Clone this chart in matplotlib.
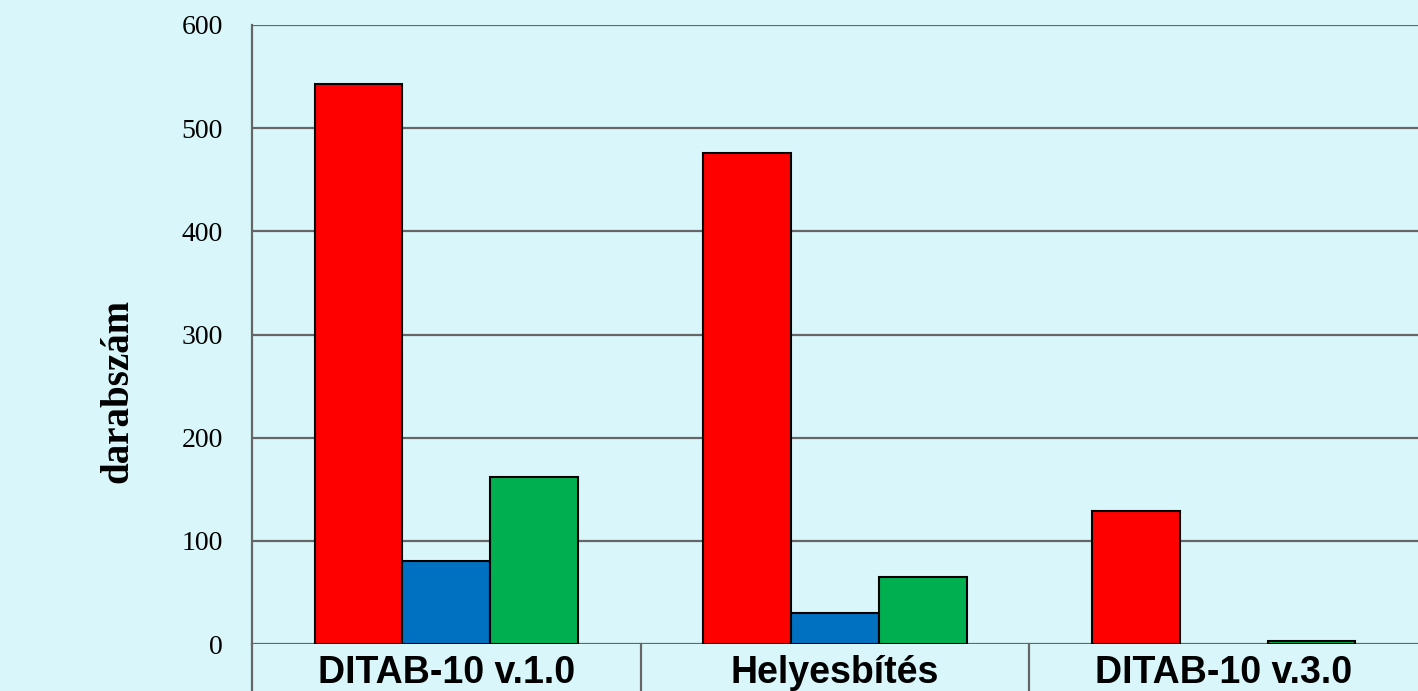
import numpy as np
import matplotlib.pyplot as plt
from matplotlib.lines import Line2D

# Data
categories = ['DITAB-10 v.1.0', 'Helyesbítés', 'DITAB-10 v.3.0']
red_vals = [543, 476, 129]
blue_vals = [80, 30, 0]
green_vals = [162, 65, 3]
yticks = [0, 100, 200, 300, 400, 500, 600]

bg = '#d9f7fa'
grid_col = '#666666'

fig = plt.figure(figsize=(14.18, 6.91), dpi=100)
fig.patch.set_facecolor(bg)
ax = fig.add_axes([252/1418, 47/691, 1166/1418, 619/691])
ax.set_facecolor(bg)

x = np.arange(len(categories))
w = 0.226
for off, vals, col in [(-w, red_vals, '#ff0000'), (0, blue_vals, '#0070c0'), (w, green_vals, '#00b050')]:
    v = np.array(vals)
    keep = v > 0
    ax.bar(x[keep] + off, v[keep], width=w, color=col, edgecolor='black', linewidth=1.5, zorder=3)

ax.set_xlim(-0.5, 2.5)
ax.set_ylim(0, 600)
ax.set_yticks(yticks)
ax.set_yticklabels([str(t) for t in yticks], family='Liberation Serif', fontsize=20)
ax.tick_params(axis='y', length=0, pad=21)
ax.yaxis.grid(True, color=grid_col, linewidth=1.6, zorder=1)
ax.set_axisbelow(True)

for s in ['top', 'right', 'bottom']:
    ax.spines[s].set_visible(False)
ax.spines['left'].set_color(grid_col)
ax.spines['left'].set_linewidth(1.6)

# category table under the axis
ax.set_xticks(x)
ax.set_xticklabels(categories, family='Liberation Sans', fontweight='bold', fontsize=27)
ax.tick_params(axis='x', length=0, pad=8)
tr = ax.get_xaxis_transform()
for xv in [-0.5, 0.5, 1.5]:
    ax.add_line(Line2D([xv, xv], [0, -0.1], transform=tr, color=grid_col,
                       linewidth=1.6, clip_on=False))

fig.text(118/1418, 1 - 391/691, 'darabszám', rotation=90, ha='center', va='center',
         family='Liberation Serif', fontweight='bold', fontsize=28)

fig.savefig('out.png', dpi=100, facecolor=bg)
